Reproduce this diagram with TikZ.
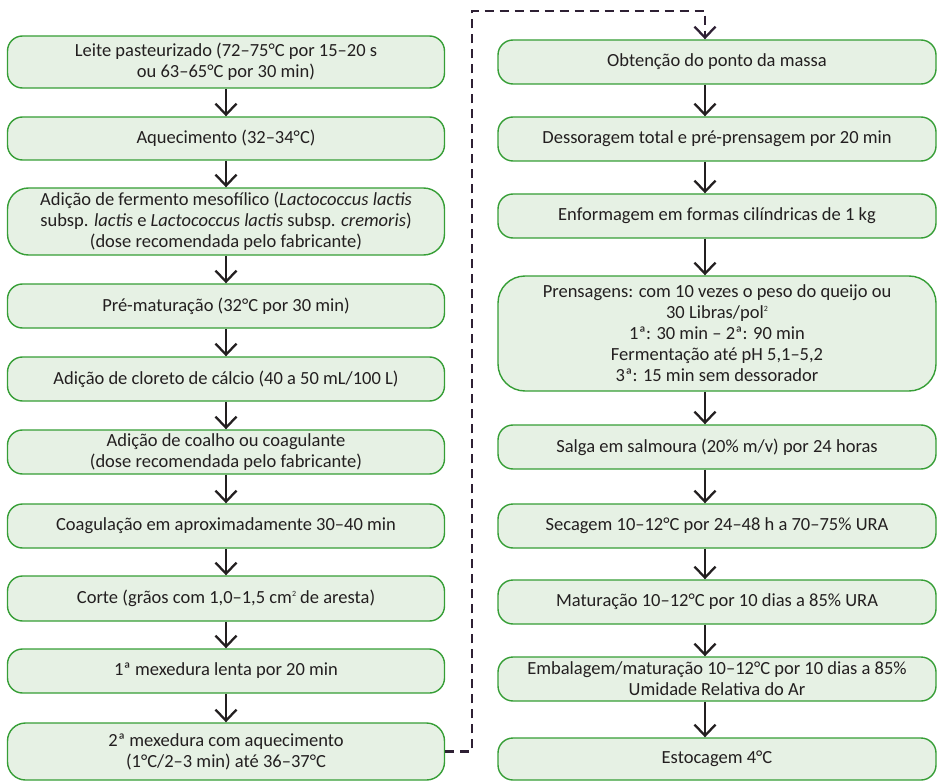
\documentclass[tikz,border=0pt]{standalone}
\usepackage{fontspec}
\setmainfont{Carlito}
\usetikzlibrary{arrows.meta}
\definecolor{boxfill}{HTML}{E6F1E4}
\definecolor{boxline}{HTML}{369E36}
\definecolor{txt}{HTML}{231F20}
\definecolor{dashc}{HTML}{2E2034}
\newcommand{\mysup}[1]{\smash{\raisebox{7.5pt}{\fontsize{8}{8}\selectfont #1}}}
\begin{document}
\begin{tikzpicture}[x=1pt,y=-1pt,
  stepbox/.style={draw=boxline, fill=boxfill, line width=1.4pt, rounded corners=15pt,
    inner sep=0pt, align=center, text=txt, font=\fontsize{18.5}{21}\selectfont},
  lbox/.style={stepbox, minimum width=437pt},
  rbox/.style={stepbox, minimum width=438pt},
  flow/.style={draw=txt, line width=2.3pt, -{Straight Barb[length=11pt,width=21pt]}},
  dconn/.style={draw=dashc, line width=2.8pt, dash pattern=on 9pt off 6pt,
    -{Straight Barb[length=11pt,width=21pt,line width=2.3pt]}}]
\useasboundingbox (0,0) rectangle (938,781);
\coordinate (lax) at (226,0);
\coordinate (rax) at (705,0);
\coordinate (dtop) at (472,11);

% left column
\node[lbox, minimum height=52pt] (l1) at (226,62) {Leite pasteurizado (72–75°C por 15–20 s\\ou 63–65°C por 30 min)};
\node[lbox, minimum height=43pt] (l2) at (226,138.5) {Aquecimento (32–34°C)};
\node[lbox, minimum height=67pt, rounded corners=21pt] (l3) at (226,221.5) {Adição de fermento mesofílico (\textit{Lactococcus lactis}\\subsp. \textit{lactis} e \textit{Lactococcus lactis} subsp. \textit{cremoris})\\(dose recomendada pelo fabricante)};
\node[lbox, minimum height=44pt] (l4) at (226,306) {Pré-maturação (32°C por 30 min)};
\node[lbox, minimum height=44pt] (l5) at (226,379) {Adição de cloreto de cálcio (40 a 50 mL/100 L)};
\node[lbox, minimum height=44pt] (l6) at (226,452) {Adição de coalho ou coagulante\\(dose recomendada pelo fabricante)};
\node[lbox, minimum height=44pt] (l7) at (226,526) {Coagulação em aproximadamente 30–40 min};
\node[lbox, minimum height=45pt] (l8) at (226,598.5) {Corte (grãos com 1,0–1,5 cm\mysup{2} de aresta)};
\node[lbox, minimum height=44pt] (l9) at (226,671) {1ª mexedura lenta por 20 min};
\node[lbox, minimum height=57pt, rounded corners=18pt] (l10) at (226,751.5) {2ª mexedura com aquecimento\\(1°C/2–3 min) até 36–37°C};

% right column
\node[rbox, minimum height=44pt] (r1) at (717,62) {Obtenção do ponto da massa};
\node[rbox, minimum height=44pt] (r2) at (717,139) {Dessoragem total e pré-prensagem por 20 min};
\node[rbox, minimum height=44pt] (r3) at (717,216) {Enformagem em formas cilíndricas de 1 kg};
\node[rbox, minimum height=115pt, rounded corners=27pt] (r4) at (717,333.5) {Prensagens: com 10 vezes o peso do queijo ou\\30 Libras/pol\mysup{2}\\1ª: 30 min – 2ª: 90 min\\Fermentação até pH 5,1–5,2\\3ª: 15 min sem dessorador};
\node[rbox, minimum height=44pt] (r5) at (717,447) {Salga em salmoura (20\% m/v) por 24 horas};
\node[rbox, minimum height=44pt] (r6) at (717,526) {Secagem 10–12°C por 24–48 h a 70–75\% URA};
\node[rbox, minimum height=44pt] (r7) at (717,602) {Maturação 10–12°C por 10 dias a 85\% URA};
\node[rbox, minimum height=44pt] (r8) at (717,679) {Embalagem/maturação 10–12°C por 10 dias a 85\%\\Umidade Relativa do Ar};
\node[rbox, minimum height=42pt] (r9) at (717,759) {Estocagem 4°C};

% arrows left
\foreach \a/\b in {l1/l2,l2/l3,l3/l4,l4/l5,l5/l6,l6/l7,l7/l8,l8/l9,l9/l10}
  \draw[flow] (\a.south -| lax) -- (\b.north -| lax);
% arrows right
\foreach \a/\b in {r1/r2,r2/r3,r3/r4,r4/r5,r5/r6,r6/r7,r7/r8,r8/r9}
  \draw[flow] (\a.south -| rax) -- (\b.north -| rax);
% dashed connector
\draw[dconn] (l10.east) -| (dtop) -| (r1.north -| rax);
\end{tikzpicture}
\end{document}
